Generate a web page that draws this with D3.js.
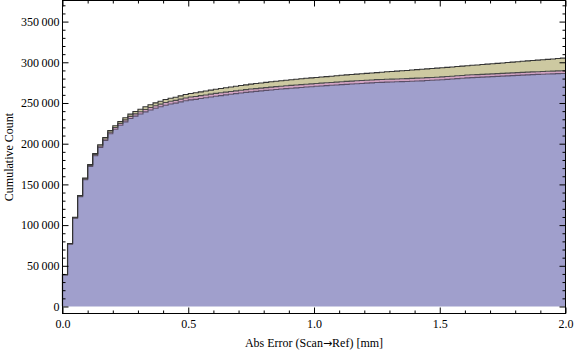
<!DOCTYPE html>
<html>
<head>
<meta charset="utf-8">
<script src="https://cdn.jsdelivr.net/npm/d3@7"></script>
<style>
  body { margin: 0; background: #fff; }
  text { font-family: "Liberation Serif", "DejaVu Serif", serif; }
</style>
</head>
<body>
<div id="chart"></div>
<script>
// cumulative histogram, bins of 0.02 mm from 0 to 2.0, three stacked layers
var binWidth = 0.02;

// bottom layer (purple)
var purpleCounts = [
  38900, 76600, 108500, 134800, 155700, 172100, 185200, 195500, 204000, 212200,
  217700, 222700, 226800, 231000, 233900, 236500, 239100, 241400, 243600, 245400,
  247300, 248800, 249800, 251400, 252700, 253800, 254500, 255500, 256400, 257400,
  258300, 259100, 260000, 260700, 261500, 262200, 263000, 263700, 264300, 264900,
  265500, 266000, 266600, 267100, 267600, 268100, 268600, 269100, 269600, 270000,
  270500, 270900, 271300, 271700, 272100, 272500, 272900, 273300, 273700, 274000,
  274400, 274700, 275100, 275300, 275600, 275700, 276000, 276200, 276400, 276700,
  277000, 277200, 277600, 277900, 278200, 278600, 279000, 279400, 279900, 280300,
  280800, 281200, 281500, 281800, 282100, 282400, 282700, 283000, 283300, 283600,
  283900, 284200, 284500, 284800, 285100, 285300, 285600, 285800, 286100, 286300
];

// middle layer (pink) band height
var pinkCounts = [
  200, 400, 600, 800, 1000, 1200, 1400, 1600, 1800, 2000,
  2100, 2200, 2400, 2500, 2700, 2800, 2900, 3000, 3100, 3200,
  3300, 3300, 3400, 3400, 3500, 3500, 3500, 3500, 3500, 3500,
  3500, 3500, 3400, 3400, 3400, 3400, 3400, 3400, 3400, 3400,
  3400, 3500, 3500, 3500, 3500, 3500, 3500, 3500, 3500, 3500,
  3500, 3500, 3500, 3500, 3500, 3600, 3600, 3600, 3600, 3600,
  3600, 3600, 3600, 3600, 3600, 3600, 3500, 3500, 3500, 3500,
  3500, 3500, 3500, 3500, 3500, 3500, 3500, 3500, 3500, 3500,
  3500, 3500, 3400, 3400, 3400, 3400, 3400, 3400, 3400, 3400,
  3400, 3400, 3400, 3400, 3300, 3300, 3300, 3300, 3300, 3300
];

// top layer (olive) band height
var oliveCounts = [
  200, 400, 600, 800, 1000, 1200, 1400, 1600, 1800, 2000,
  2200, 2400, 2600, 2800, 3000, 3100, 3300, 3400, 3500, 3600,
  3700, 3800, 3900, 4000, 4200, 4300, 4500, 4600, 4800, 4900,
  5000, 5200, 5300, 5500, 5600, 5800, 5900, 6100, 6200, 6300,
  6400, 6500, 6600, 6700, 6800, 6900, 7000, 7100, 7200, 7300,
  7400, 7500, 7600, 7700, 7800, 7900, 8000, 8100, 8200, 8300,
  8400, 8500, 8600, 8900, 9100, 9400, 9600, 9900, 10100, 10300,
  10500, 10700, 10800, 11000, 11100, 11200, 11300, 11400, 11400, 11500,
  11500, 11600, 11800, 12000, 12200, 12400, 12600, 12800, 13000, 13200,
  13400, 13600, 13800, 14000, 14200, 14500, 14700, 15000, 15200, 15500
];

var xTicks = [0, 0.5, 1.0, 1.5, 2.0];
var yTicks = [0, 50000, 100000, 150000, 200000, 250000, 300000, 350000];

var svgWidth = 576;
var svgHeight = 353;

var plot = { left: 62.5, right: 565.5, top: 0.5, bottom: 313.5 };

var svg = d3.select("#chart")
    .append("svg")
    .attr("width", svgWidth)
    .attr("height", svgHeight);

var xScale = d3.scaleLinear()
    .domain([0, 2])
    .range([plot.left, plot.right]);

var yScale = d3.scaleLinear()
    .domain([-8600, 375900])
    .range([plot.bottom, plot.top]);

// build table for the stack
var table = purpleCounts.map(function (d, i) {
    return {
        x0: i * binWidth,
        x1: (i + 1) * binWidth,
        purple: d,
        pink: pinkCounts[i],
        olive: oliveCounts[i]
    };
});

var stack = d3.stack().keys(["purple", "pink", "olive"]);
var layers = stack(table);

var fills = { purple: "#a09fcc", pink: "#d3a3c3", olive: "#cdc9a1" };
var edges = { purple: "#5a4f68", pink: "#4a4a4a", olive: "#333333" };

// expand each bin into two points so the area is a staircase
function stepPoints(layer) {
    var pts = [];
    layer.forEach(function (s) {
        pts.push({ x: s.data.x0, y0: s[0], y1: s[1] });
        pts.push({ x: s.data.x1, y0: s[0], y1: s[1] });
    });
    return pts;
}

var area = d3.area()
    .x(d => xScale(d.x))
    .y0(d => yScale(d.y0))
    .y1(d => yScale(d.y1));

var topLine = d3.line()
    .x(d => xScale(d.x))
    .y(d => yScale(d.y1));

var chartGroup = svg.append("g");

chartGroup.selectAll("path.layer")
    .data(layers)
    .enter()
    .append("path")
    .attr("class", "layer")
    .attr("fill", d => fills[d.key])
    .attr("d", d => area(stepPoints(d)));

chartGroup.selectAll("path.edge")
    .data(layers)
    .enter()
    .append("path")
    .attr("class", "edge")
    .attr("fill", "none")
    .attr("stroke", d => edges[d.key])
    .attr("stroke-width", 1.1)
    .attr("d", function (d) {
        var pts = stepPoints(d);
        // start the outline at the baseline of the first bin
        pts.unshift({ x: 0, y0: 0, y1: 0 });
        return topLine(pts);
    });

// frame
svg.append("rect")
    .attr("x", plot.left)
    .attr("y", plot.top)
    .attr("width", plot.right - plot.left)
    .attr("height", plot.bottom - plot.top)
    .attr("fill", "none")
    .attr("stroke", "#000")
    .attr("stroke-width", 1);

var xMinor = d3.range(0, 2.0001, 0.1).filter(v => Math.abs(v * 2 - Math.round(v * 2)) > 1e-6);
var yMinor = d3.range(0, 375000, 10000).filter(v => v % 50000 !== 0);

// bottom axis (ticks point inward)
var bottomAxis = d3.axisBottom(xScale)
    .tickValues(xTicks)
    .tickFormat(d3.format(".1f"))
    .tickSizeInner(-6)
    .tickSizeOuter(0)
    .tickPadding(6);

svg.append("g")
    .attr("transform", `translate(0, ${plot.bottom})`)
    .call(bottomAxis);

svg.append("g")
    .attr("transform", `translate(0, ${plot.bottom})`)
    .call(d3.axisBottom(xScale).tickValues(xMinor).tickFormat("").tickSizeInner(-3).tickSizeOuter(0));

svg.append("g")
    .attr("transform", `translate(0, ${plot.top})`)
    .call(d3.axisTop(xScale).tickValues(xTicks).tickFormat("").tickSizeInner(-6).tickSizeOuter(0));

svg.append("g")
    .attr("transform", `translate(0, ${plot.top})`)
    .call(d3.axisTop(xScale).tickValues(xMinor).tickFormat("").tickSizeInner(-3).tickSizeOuter(0));

// left axis
var fmt = function (v) {
    return d3.format(",")(v).replace(/,/g, "\u2009");
};

var leftAxis = d3.axisLeft(yScale)
    .tickValues(yTicks)
    .tickFormat(fmt)
    .tickSizeInner(-6)
    .tickSizeOuter(0)
    .tickPadding(3);

svg.append("g")
    .attr("transform", `translate(${plot.left}, 0)`)
    .call(leftAxis);

svg.append("g")
    .attr("transform", `translate(${plot.left}, 0)`)
    .call(d3.axisLeft(yScale).tickValues(yMinor).tickFormat("").tickSizeInner(-3).tickSizeOuter(0));

svg.append("g")
    .attr("transform", `translate(${plot.right}, 0)`)
    .call(d3.axisRight(yScale).tickValues(yTicks).tickFormat("").tickSizeInner(-6).tickSizeOuter(0));

svg.append("g")
    .attr("transform", `translate(${plot.right}, 0)`)
    .call(d3.axisRight(yScale).tickValues(yMinor).tickFormat("").tickSizeInner(-3).tickSizeOuter(0));

// the frame rect already draws the axis lines
svg.selectAll(".domain").remove();
svg.selectAll(".tick text")
    .style("font-family", "'Liberation Serif', serif")
    .style("font-size", "12px")
    .attr("fill", "#000");

// axis titles
var xTitle = svg.append("text")
    .attr("x", 314)
    .attr("y", 347)
    .attr("text-anchor", "middle")
    .style("font-size", "12px");
xTitle.append("tspan").text("Abs Error (Scan");
xTitle.append("tspan")
    .style("font-family", "'DejaVu Sans', sans-serif")
    .style("font-size", "11px")
    .text("\u2192");
xTitle.append("tspan").text("Ref) [mm]");

svg.append("text")
    .attr("transform", "translate(13, 157) rotate(-90)")
    .attr("text-anchor", "middle")
    .style("font-size", "12px")
    .text("Cumulative Count");
</script>
</body>
</html>
